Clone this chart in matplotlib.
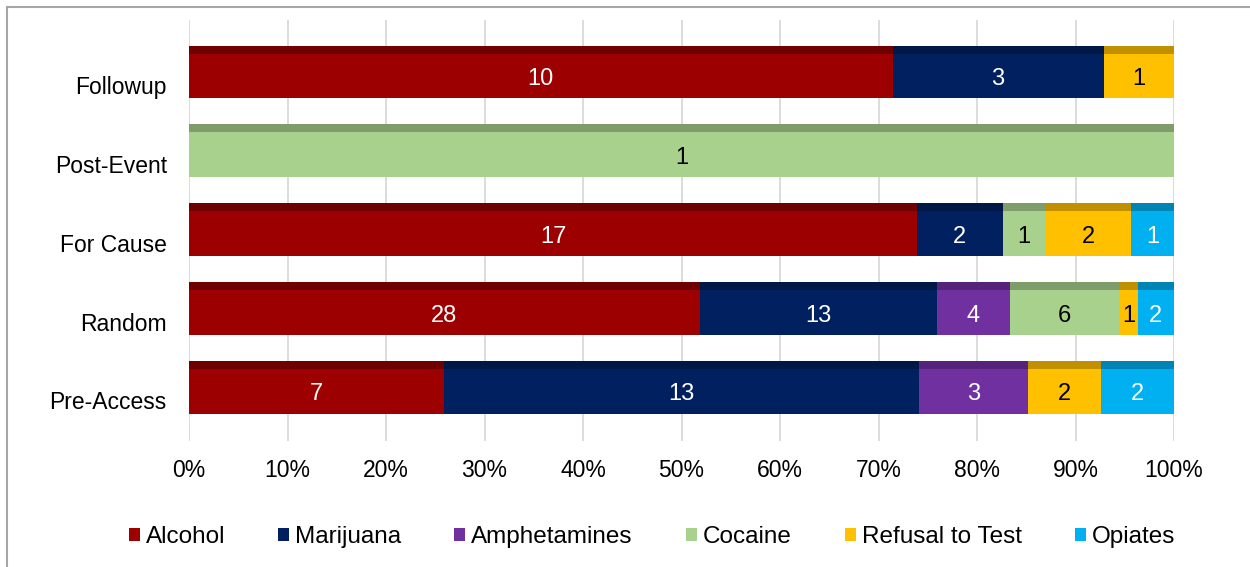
import matplotlib
matplotlib.use("Agg")
import matplotlib.pyplot as plt
import matplotlib.transforms as mtransforms
from matplotlib.lines import Line2D
from matplotlib.patches import Patch
import numpy as np

plt.rcParams['font.family'] = ['Liberation Sans', 'DejaVu Sans']

categories = ["Pre-Access", "Random", "For Cause", "Post-Event", "Followup"]
series = ["Alcohol", "Marijuana", "Amphetamines", "Cocaine", "Refusal to Test", "Opiates"]
values = {
    "Alcohol":         [7, 28, 17, 0, 10],
    "Marijuana":       [13, 13, 2, 0, 3],
    "Amphetamines":    [3, 4, 0, 0, 0],
    "Cocaine":         [0, 6, 1, 1, 0],
    "Refusal to Test": [2, 1, 2, 0, 1],
    "Opiates":         [2, 2, 1, 0, 0],
}
xticks = [0, 10, 20, 30, 40, 50, 60, 70, 80, 90, 100]

colors = {
    "Alcohol": "#9C0000",
    "Marijuana": "#002060",
    "Amphetamines": "#7030A0",
    "Cocaine": "#A9D18E",
    "Refusal to Test": "#FFC000",
    "Opiates": "#00B0F0",
}
dark = {
    "Alcohol": "#6E0000",
    "Marijuana": "#001845",
    "Amphetamines": "#55237A",
    "Cocaine": "#7F9D6B",
    "Refusal to Test": "#C09000",
    "Opiates": "#0084B4",
}
text_color = {
    "Alcohol": "white", "Marijuana": "white", "Amphetamines": "white",
    "Cocaine": "black", "Refusal to Test": "black", "Opiates": "white",
}

W, H = 1250, 567
fig = plt.figure(figsize=(W / 100, H / 100), dpi=100)
ax = fig.add_axes([189 / W, 1 - 441 / H, (1174 - 189) / W, (441 - 20) / H])

y = np.arange(len(categories))
totals = np.array([sum(values[s][i] for s in series) for i in range(len(categories))], dtype=float)
left = np.zeros(len(categories))
bh = 0.67
band = 0.10
for s in series:
    v = np.array(values[s], dtype=float)
    pct = v / totals * 100
    ax.barh(y, pct, left=left, height=bh, color=colors[s], zorder=3)
    ax.barh(y + bh / 2 - band / 2, pct, left=left, height=band, color=dark[s], zorder=4)
    for i in range(len(categories)):
        if v[i] > 0:
            ax.text(left[i] + pct[i] / 2, y[i] - 0.09, f"{int(v[i])}", ha="center", va="center",
                    color=text_color[s], fontsize=17, zorder=5)
    left += pct

ax.set_xlim(0, 100)
ax.set_ylim(-0.68, 4.66)
ax.set_xticks(xticks)
ax.set_xticklabels([f"{t}%" for t in xticks], fontsize=16.5)
ax.set_yticks(y)
ax.set_yticklabels(categories, fontsize=16.5)
ax.tick_params(length=0)
ax.tick_params(axis='y', pad=16)
ax.tick_params(axis='x', pad=13)
offset = mtransforms.ScaledTranslation(0, -13 / 100, fig.dpi_scale_trans)
for lbl in ax.get_yticklabels():
    lbl.set_transform(lbl.get_transform() + offset)
ax.xaxis.grid(True, color="#D9D9D9", linewidth=1.3, zorder=0)
for sp in ax.spines.values():
    sp.set_visible(False)

handles = [Patch(facecolor=colors[s], edgecolor='none') for s in series]
fig.legend(handles, series, loc="center", bbox_to_anchor=(652 / W, 1 - 537 / H), ncol=6,
           frameon=False, fontsize=17.5, handlelength=0.45, handleheight=0.45,
           handletextpad=0.25, columnspacing=2.18, borderpad=0, borderaxespad=0)

fig.add_artist(Line2D([7 / W, 7 / W], [0, 1 - 6.5 / H], transform=fig.transFigure, color="#A6A6A6", lw=1.5))
fig.add_artist(Line2D([7 / W, 1], [1 - 6.5 / H, 1 - 6.5 / H], transform=fig.transFigure, color="#A6A6A6", lw=1.5))

fig.savefig("out.png", dpi=100, facecolor="white")
